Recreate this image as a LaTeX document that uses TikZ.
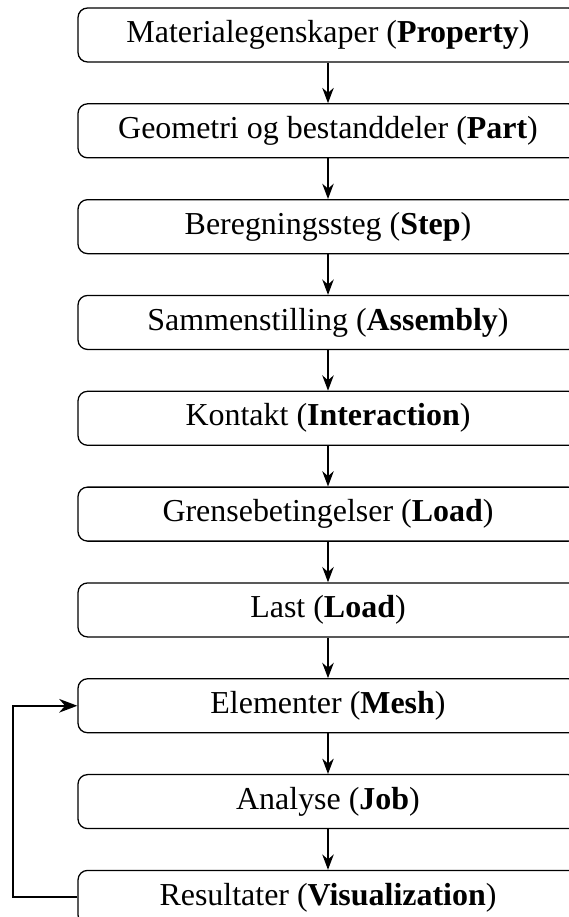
\documentclass[tikz,border=0pt]{standalone}
\usepackage{fontspec}
\setmainfont{Liberation Serif}
\usetikzlibrary{arrows.meta,positioning}

\begin{document}
\begin{tikzpicture}[
    stepbox/.style={draw,rounded corners=3pt,minimum width=5.5cm,minimum height=0.594cm,
        inner ysep=0pt,text height=0.7em,text depth=0.22em,align=center,font=\fontsize{10}{12}\selectfont},
    >=Stealth,node distance=0.446cm
]
\useasboundingbox (0,0) rectangle (6.259,-10.087);
\clip (0,0) rectangle (6.259,-10.087);
\node[stepbox] (prop) at (3.608,-0.385) {Materialegenskaper (\textbf{Property})};
\node[stepbox,below=of prop] (part) {Geometri og bestanddeler (\textbf{Part})};
\node[stepbox,below=of part] (step) {Beregningssteg (\textbf{Step})};
\node[stepbox,below=of step] (asm) {Sammenstilling (\textbf{Assembly})};
\node[stepbox,below=of asm] (inter) {Kontakt (\textbf{Interaction})};
\node[stepbox,below=of inter] (bc) {Grensebetingelser (\textbf{Load})};
\node[stepbox,below=of bc] (load) {Last (\textbf{Load})};
\node[stepbox,below=of load] (mesh) {Elementer (\textbf{Mesh})};
\node[stepbox,below=of mesh] (job) {Analyse (\textbf{Job})};
\node[stepbox,below=of job] (res) {Resultater (\textbf{Visualization})};
\draw[->] (prop) -- (part);
\draw[->] (part) -- (step);
\draw[->] (step) -- (asm);
\draw[->] (asm) -- (inter);
\draw[->] (inter) -- (bc);
\draw[->] (bc) -- (load);
\draw[->] (load) -- (mesh);
\draw[->] (mesh) -- (job);
\draw[->] (job) -- (res);
% feedback from results back to mesh
\coordinate[left=0.704cm of res.west] (loop);
\draw[->,semithick] (res.west) -- (loop) |- (mesh.west);
\end{tikzpicture}
\end{document}
